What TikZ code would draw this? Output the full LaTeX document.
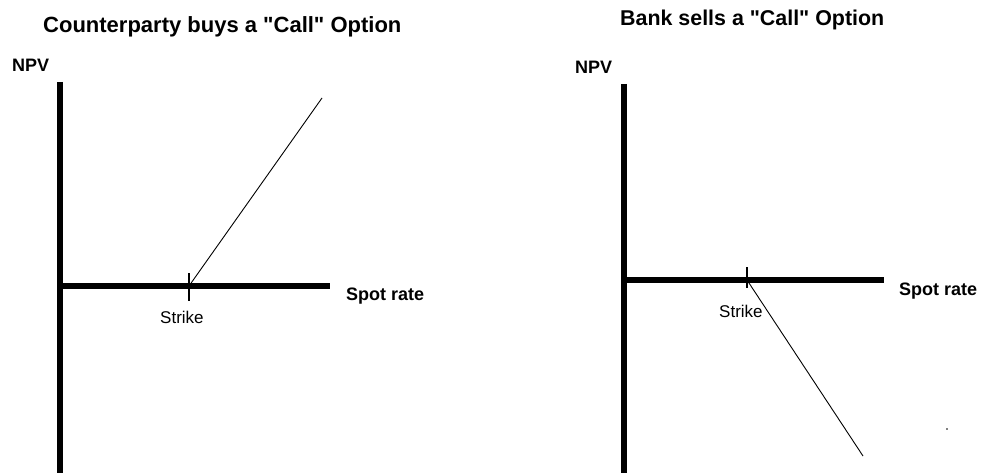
\documentclass[tikz,border=0pt]{standalone}
\usepackage{fontspec}
\setmainfont{Liberation Sans}
\usetikzlibrary{positioning}

\tikzset{
  axis line/.style={line width=6pt},
  payoff line/.style={line width=0.9pt},
  tick mark/.style={line width=1.2pt},
  title text/.style={font=\bfseries\fontsize{#1}{26}\selectfont, anchor=base west, inner sep=0pt},
  axis text/.style={font=\bfseries\fontsize{18}{20}\selectfont, anchor=base west, inner sep=0pt},
  strike text/.style={font=\fontsize{17}{20}\selectfont, anchor=base west, inner sep=0pt},
}

\begin{document}
\begin{tikzpicture}[x=1pt, y=-1pt]
    \useasboundingbox (0,0) rectangle (982,473);

    % counterparty buys the call
    \begin{scope}
        \node[title text=22] (titleL) at (43,33) {Counterparty buys a \textquotedbl Call\textquotedbl{} Option};
        \node[axis text] (npvL) at (12,72) {NPV};
        \node[axis text] (spotL) at (346,300) {Spot rate};
        \node[strike text] (strikeL) at (160,323) {Strike};
        \coordinate (topL) at (60,82);
        \coordinate (botL) at (60,473);
        \coordinate (oL) at (60,286);
        \coordinate (endL) at (330,286);
        \coordinate (kL) at (189,286);
        \coordinate (kLup) at (189,273);
        \coordinate (kLdn) at (189,301);
        \coordinate (payL) at (322,98);
        \draw[axis line] (topL) -- (botL);
        \draw[axis line] (oL) -- (endL);
        \draw[tick mark] (kLup) -- (kLdn);
        \draw[payoff line] (kL) -- (payL);
    \end{scope}

    % bank sells the call
    \begin{scope}
        \node[title text=21.4] (titleR) at (620,26) {Bank sells a \textquotedbl Call\textquotedbl{} Option};
        \node[axis text] (npvR) at (575,74) {NPV};
        \node[axis text] (spotR) at (899,295) {Spot rate};
        \node[strike text] (strikeR) at (719,317) {Strike};
        \coordinate (topR) at (624,84);
        \coordinate (botR) at (624,473);
        \coordinate (oR) at (624,280);
        \coordinate (endR) at (884,280);
        \coordinate (kR) at (747,280);
        \coordinate (kRup) at (747,267);
        \coordinate (kRdn) at (747,288);
        \coordinate (payR) at (863,456);
        \draw[axis line] (topR) -- (botR);
        \draw[axis line] (oR) -- (endR);
        \draw[tick mark] (kRup) -- (kRdn);
        \draw[payoff line] (kR) -- (payR);
        \fill (947,429) circle (0.8);
    \end{scope}
\end{tikzpicture}
\end{document}
